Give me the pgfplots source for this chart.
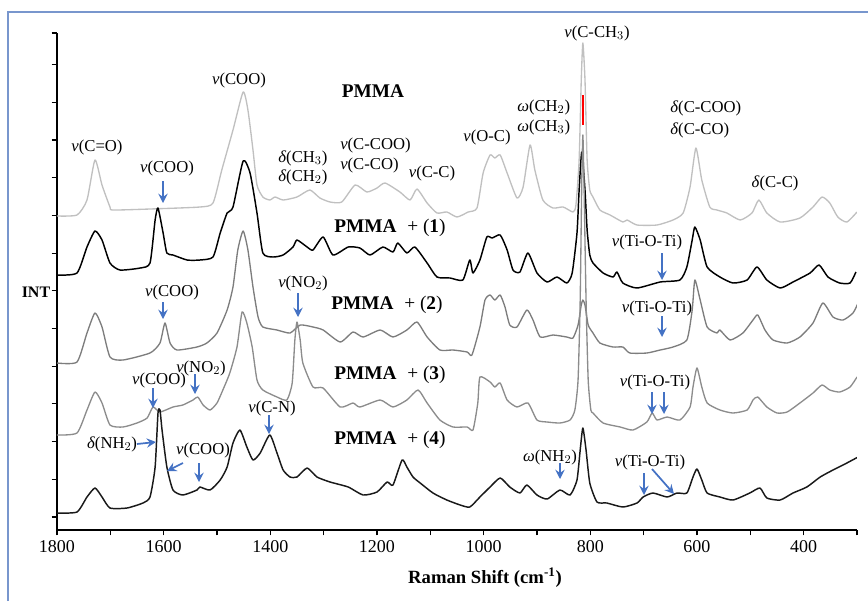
\documentclass[border=0pt]{standalone}
\usepackage{pgfplots}
\pgfplotsset{compat=1.18}
\usepackage{fontspec}
\setmainfont{Liberation Serif}
\usetikzlibrary{arrows.meta}
\definecolor{arrblue}{RGB}{68,114,196}
\definecolor{framecol}{RGB}{120,150,205}
\definecolor{pmmagray}{RGB}{192,192,192}
\definecolor{midgray}{RGB}{125,125,125}
\definecolor{midgrayb}{RGB}{140,140,140}
\newcommand{\an}{\fontsize{12.5}{13}\selectfont}
\newcommand{\pmlab}[1]{\fontsize{14.5}{15}\selectfont\textbf{PMMA}\hspace{0.55em}+ (\textbf{#1})}
\begin{document}
\begin{tikzpicture}[x=0.75pt,y=-0.75pt]
\useasboundingbox (0,0) rectangle (868,601);
\draw[framecol, line width=1.1pt] (8,601) -- (8,12) -- (868,12);
\begin{axis}[
  at={(42.75pt,-397.5pt)}, anchor=south west,
  scale only axis, width=600pt, height=372.75pt,
  x dir=reverse, xmin=300, xmax=1800, ymin=0, ymax=497,
  axis x line*=bottom, axis y line*=left,
  xtick={400,600,...,1800}, minor xtick={300,500,...,1700},
  ytick={13,50.7,88.4,126.1,163.8,201.5,239.2,276.9,314.6,352.3,390,427.7,465.4,497},
  yticklabels={},
  tick align=outside, major tick length=4pt, minor tick length=4pt,
  tick style={black, line width=0.8pt},
  axis line style={black, line width=1pt},
  x tick label style={font=\fontsize{13.5}{14}\selectfont},
  /pgf/number format/assume math mode=true,
  /pgf/number format/1000 sep={},
  every axis plot/.append style={line join=round, smooth, tension=0.35},
]
% PMMA
\addplot[pmmagray, line width=1pt] coordinates {
(1800,314)(1762.5,315)(1743.75,330)(1728.75,370)(1715.6,345)(1700.6,323)(1695,320)(1625.6,321)(1532,323)(1507.5,327)(1491,360)(1470,400)(1451,438)(1442,420)(1432.5,380)(1425,345)(1414,333)(1401,330)(1391,333)(1376,330)(1350,333)(1326,340)(1307,332)(1288,328)(1266,328)(1241,345)(1219,338)(1200,342)(1185,347)(1157,338)(1138,330)(1125,341)(1106,327)(1087.5,317)(1069,318)(1050,313)(1029,318)(1012.5,322)(1001,357)(988,375)(979,372)(969,375)(956,357)(937.5,332)(926,343)(913,385)(904,360)(889,330)(870,322)(851,323)(832.5,318)(827,325)(821,370)(817,450)(814,487)(810,450)(806,370)(801,340)(795,333)(782,320)(763,315)(739,308)(731,310)(712.5,305)(675,305)(645,310)(626,317)(613,343)(602,382)(591,350)(576,323)(562.5,320)(544,317)(519,310)(497,317)(484,330)(469,317)(444,308)(407,312)(382.5,323)(365.6,333)(351,327)(336,313)(319,308)(300,318)};
% PMMA + (1)
\addplot[black, line width=1.1pt] coordinates {
(1800,255)(1762.5,257)(1743.75,283)(1728.75,299)(1715.6,290)(1700.6,267)(1681.9,260)(1644,262)(1625.6,267)(1616,310)(1610.6,322)(1601,297)(1594,277)(1582.5,275)(1556,270)(1532,270)(1507.5,273)(1494,297)(1481,317)(1470,323)(1451,369)(1438,357)(1425,317)(1414,277)(1395,273)(1376,275)(1357.5,283)(1350,290)(1331,283)(1320,280)(1301,293)(1282.5,275)(1254,283)(1232,282)(1213,275)(1189,283)(1170,278)(1161,287)(1144,277)(1129,283)(1106,267)(1087.5,253)(1063,252)(1039,250)(1026,270)(1020,257)(1007,270)(994,293)(984,292)(969,295)(956,280)(945,260)(932,258)(917,277)(900,257)(881,248)(862.5,253)(844,247)(834,257)(825,297)(821,340)(816,378)(810,340)(806,300)(801,275)(795,267)(776,257)(757.5,253)(750,258)(739,247)(712.5,242)(669,248)(632,250)(619,263)(609,290)(604,303)(594,290)(581,263)(557,253)(532.5,247)(506,250)(487.5,263)(469,250)(444,242)(420,248)(388,257)(371,265)(354.4,253)(332.5,247)(313,247)(302,258)};
% PMMA + (2)
\addplot[midgray, line width=1pt] coordinates {
(1800,167)(1762.5,168)(1743.75,197)(1728.75,217)(1715.6,203)(1700.6,173)(1676.25,170)(1625.6,177)(1606.9,187)(1597.5,207)(1588,187)(1575,180)(1537.5,183)(1519,187)(1500,197)(1481,220)(1470,243)(1461,280)(1451,299)(1442,280)(1432.5,243)(1423,213)(1414,203)(1387.5,200)(1363,197)(1344,205)(1320,203)(1301,200)(1269,188)(1245,198)(1226,193)(1194,200)(1170,193)(1144,200)(1125,208)(1106,193)(1082,180)(1057.5,180)(1031,178)(1022,175)(1007,203)(997.5,230)(988,235)(979,230)(969,235)(960,223)(951,205)(937.5,203)(919,220)(907.5,210)(894,193)(870,195)(844,193)(832.5,192)(823,205)(817,225)(814,230)(810,225)(804,205)(795,197)(782,187)(757.5,183)(739,183)(726,177)(694,177)(669,180)(645,183)(619,190)(609,220)(604,250)(594,230)(581,203)(562.5,197)(557,200)(538,190)(514,197)(495,210)(486,215)(472.5,200)(457.5,190)(431,187)(407,193)(382.5,207)(364,227)(345,213)(326,210)(307.5,217)(298,227)};
% PMMA + (3)
\addplot[midgrayb, line width=1pt] coordinates {
(1800,95)(1762.5,97)(1743.75,120)(1728.75,138)(1715.6,127)(1700.6,105)(1676.25,103)(1650,107)(1631,112)(1620,123)(1606.9,118)(1582.5,123)(1564,125)(1545,130)(1536,133)(1526,125)(1513,120)(1500,127)(1489,140)(1476,157)(1462.5,183)(1453,218)(1444,207)(1434,183)(1425,150)(1414,140)(1387.5,133)(1369,130)(1359,147)(1354,190)(1350,208)(1344,190)(1339,167)(1320,143)(1301,142)(1269,123)(1245,127)(1232,123)(1194,130)(1170,123)(1144,130)(1123,140)(1106,127)(1082,110)(1057.5,103)(1031,103)(1020,100)(1011,127)(1007,153)(988,148)(979,143)(969,147)(956,130)(937.5,123)(917,127)(900,110)(881,108)(857,107)(838,110)(829,120)(823,150)(819,230)(816,350)(814,395)(812,350)(808,230)(804,150)(799,120)(795,117)(776,107)(744,103)(720,100)(694,108)(684,117)(675,110)(656,113)(632,110)(613,123)(607.5,143)(600,162)(591,143)(581,127)(557,120)(532.5,117)(506,120)(495,130)(486,133)(469,123)(450,117)(431,118)(407,127)(382.5,137)(365.6,145)(351,140)(332.5,138)(313,143)(300,153)};
% PMMA + (4)
\addplot[black!90, line width=1.1pt] coordinates {
(1800,17)(1762.5,18)(1743.75,33)(1728.75,42)(1715.6,33)(1700.6,22)(1668.75,22)(1638.75,27)(1625.6,33)(1616,63)(1610.6,117)(1606.9,120)(1603,100)(1594,63)(1582.5,40)(1564,35)(1537.5,40)(1532,43)(1513,40)(1494,50)(1481,63)(1470,87)(1457,100)(1444,83)(1432.5,70)(1419,77)(1401,95)(1387.5,77)(1376,60)(1363,53)(1350,53)(1331,62)(1312.5,53)(1288,48)(1254,43)(1226,35)(1200,38)(1181,48)(1170,45)(1153,70)(1144,63)(1132.5,53)(1119,47)(1095,37)(1069,30)(1044,25)(1026,23)(1007,33)(988,43)(969,52)(951,43)(932,37)(919,45)(900,35)(881,31)(857,40)(838,35)(825,50)(819,80)(814,102)(808,80)(801,47)(787.5,28)(769,27)(739,23)(712.5,27)(701,33)(682.5,37)(656,33)(637.5,37)(619,37)(607.5,53)(600,61)(591,50)(581,37)(557,33)(532.5,30)(501,37)(482,42)(469,32)(444,30)(420,37)(394,43)(369,53)(345,60)(319,67)(298,73)};
\end{axis}
% red mark
\draw[red, line width=1.5pt] (583,95) -- (583,125);
% labels
\tikzset{lab/.style={font=\an, inner sep=0pt}, arr/.style={arrblue, line width=1.3pt, -{Stealth[length=7pt,width=7pt,inset=2.5pt]}}}
\node[lab] at (97,147) {\textit{v}(C=O)};
\node[lab] at (239,80) {\textit{v}(COO)};
\node[lab] at (167,168) {\textit{v}(COO)};
\draw[arr] (163,181) -- (163,203);
\node[inner sep=0pt] at (373,91) {\fontsize{14.5}{15}\selectfont\textbf{PMMA}};
\node[lab, anchor=west] at (278,158) {\textit{δ}(CH$_3$)};
\node[lab, anchor=west] at (278,177) {\textit{δ}(CH$_2$)};
\node[lab, anchor=west] at (340,145) {\textit{v}(C-COO)};
\node[lab, anchor=west] at (340,165) {\textit{v}(C-CO)};
\node[lab] at (432,173) {\textit{v}(C-C)};
\node[lab] at (487,137) {\textit{v}(O-C)};
\node[lab, anchor=west] at (517,107) {\textit{ω}(CH$_2$)};
\node[lab, anchor=west] at (517,127) {\textit{ω}(CH$_3$)};
\node[lab] at (597,33) {\textit{v}(C-CH$_3$)};
\node[lab, anchor=west] at (670,108) {\textit{δ}(C-COO)};
\node[lab, anchor=west] at (670,130) {\textit{δ}(C-CO)};
\node[lab] at (775,183) {\textit{δ}(C-C)};
\node[inner sep=0pt] at (390,228) {\pmlab{1}};
\node[lab] at (647,242) {\textit{v}(Ti-O-Ti)};
\draw[arr] (662,253) -- (662,280);
\node[lab] at (172,292) {\textit{v}(COO)};
\draw[arr] (163,302) -- (163,319);
\node[lab] at (303,283) {\textit{v}(NO$_2$)};
\draw[arr] (298,293) -- (298,317);
\node[inner sep=0pt] at (387,305) {\pmlab{2}};
\node[lab] at (657,308) {\textit{v}(Ti-O-Ti)};
\draw[arr] (662,316) -- (662,337);
\node[lab] at (159,380) {\textit{v}(COO)};
\draw[arr] (153,388) -- (153,408);
\node[lab] at (201,368) {\textit{v}(NO$_2$)};
\draw[arr] (195,374) -- (195,394);
\node[inner sep=0pt] at (390,375) {\pmlab{3}};
\node[lab] at (655,382) {\textit{v}(Ti-O-Ti)};
\draw[arr] (652,392) -- (652,414);
\draw[arr] (664,392) -- (664,414);
\node[lab] at (272,408) {\textit{v}(C-N)};
\draw[arr] (269,415) -- (269,434);
\node[lab] at (112,444) {\textit{δ}(NH$_2$)};
\draw[arr] (137,444) -- (156,442);
\node[lab] at (203,450) {\textit{v}(COO)};
\draw[arr] (183,463) -- (167,471);
\draw[arr] (199,463) -- (199,482);
\node[inner sep=0pt] at (390,440) {\pmlab{4}};
\node[lab] at (550,457) {\textit{ω}(NH$_2$)};
\draw[arr] (560,463) -- (560,479);
\node[lab] at (650,462) {\textit{v}(Ti-O-Ti)};
\draw[arr] (644,473) -- (644,495);
\draw[arr] (652,469) -- (674,494);
\node[inner sep=0pt] at (36,292) {\fontsize{12}{13}\selectfont\textbf{INT}};
\node[inner sep=0pt] at (485,578) {\fontsize{14}{15}\selectfont\textbf{Raman Shift (cm\textsuperscript{-1})}};
\end{tikzpicture}
\end{document}
